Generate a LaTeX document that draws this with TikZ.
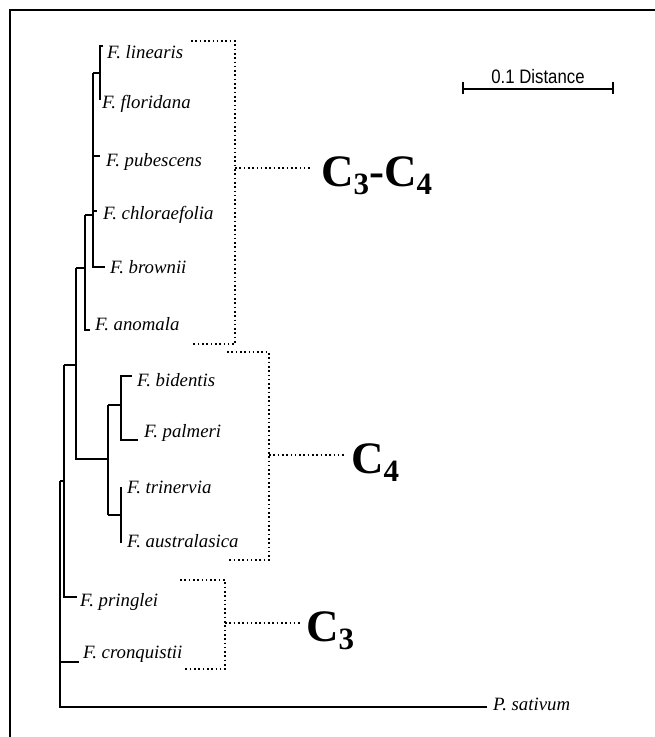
\documentclass[tikz,border=0pt]{standalone}
\usepackage{fontspec}
\usepackage{graphicx}
\setmainfont{Liberation Serif}
\newfontfamily\barfont{Liberation Sans}
\begin{document}
\begin{tikzpicture}[x=1pt,y=-1pt,
  tree/.style={line width=1.4pt},
  frameline/.style={line width=2.2pt},
  dotline/.style={line width=1.6pt, dash pattern=on 1.6pt off 2.7pt},
  taxon/.style={anchor=base west, inner sep=0pt, font=\fontsize{18.8}{20}\selectfont\itshape},
  group/.style={anchor=base west, inner sep=0pt, font=\fontsize{45}{45}\selectfont\bfseries}]
\useasboundingbox (0,0) rectangle (655,737);
% frame
\draw[frameline] (10,737) -- (10,10) -- (655,10);
% taxon labels
\node[taxon] (lin) at (107,58) {F. linearis};
\node[taxon] (flo) at (102,108) {F. floridana};
\node[taxon] (pub) at (106,166) {F. pubescens};
\node[taxon] (chl) at (103,219) {F. chloraefolia};
\node[taxon] (bro) at (110,273) {F. brownii};
\node[taxon] (ano) at (95,330) {F. anomala};
\node[taxon] (bid) at (137,386) {F. bidentis};
\node[taxon] (pal) at (144,437) {F. palmeri};
\node[taxon] (tri) at (127,493) {F. trinervia};
\node[taxon] (aus) at (127,547) {F. australasica};
\node[taxon] (pri) at (80,606) {F. pringlei};
\node[taxon] (cro) at (83,658) {F. cronquistii};
\node[taxon] (sat) at (493,710) {P. sativum};
% tree
\draw[tree] (103,46) -- (100,46) -- (100,100);
\draw[tree] (93,73) -- (100,73);
\draw[tree] (93,73) -- (93,267) -- (105,267);
\draw[tree] (93,156) -- (100,156);
\draw[tree] (93,211) -- (97,211);
\draw[tree] (85,215) -- (93,215);
\draw[tree] (85,215) -- (85,330) -- (90,330);
\draw[tree] (76,268) -- (85,268);
\draw[tree] (76,268) -- (76,459) -- (108,459);
\draw[tree] (108,405) -- (108,515);
\draw[tree] (132,376) -- (121,376) -- (121,440) -- (138,440);
\draw[tree] (108,405) -- (121,405);
\draw[tree] (122,488) -- (121,488) -- (121,542) -- (122,542);
\draw[tree] (108,515) -- (121,515);
\draw[tree] (64,365) -- (76,365);
\draw[tree] (64,365) -- (64,597) -- (77,597);
\draw[tree] (60,481) -- (64,481);
\draw[tree] (60,481) -- (60,707) -- (487,707);
\draw[tree] (60,662) -- (79,662);
% brackets
\draw[dotline] (191,41) -- (235,41) -- (235,344) -- (193,344);
\draw[dotline] (235,168) -- (310,168);
\draw[dotline] (227,352) -- (269,352) -- (269,560) -- (228,560);
\draw[dotline] (269,455) -- (345,455);
\draw[dotline] (180,580) -- (225,580) -- (225,669) -- (183,669);
\draw[dotline] (225,623) -- (300,623);
% group labels
\node[group] (c34) at (321,186) {C\raisebox{-8pt}{\fontsize{31}{31}\selectfont 3}-C\raisebox{-8pt}{\fontsize{31}{31}\selectfont 4}};
\node[group] (c4) at (351,473) {C\raisebox{-8pt}{\fontsize{31}{31}\selectfont 4}};
\node[group] (c3) at (306,641) {C\raisebox{-8pt}{\fontsize{31}{31}\selectfont 3}};
% scale bar
\draw[line width=1.5pt] (463,89) -- (613,89);
\draw[line width=1.5pt] (463,82) -- (463,94);
\draw[line width=1.5pt] (613,82) -- (613,94);
\node[anchor=base, inner sep=0pt, font=\barfont\fontsize{19.5}{19.5}\selectfont] (bar) at (538,83) {\scalebox{0.86}[1]{0.1 Distance}};
\end{tikzpicture}
\end{document}
